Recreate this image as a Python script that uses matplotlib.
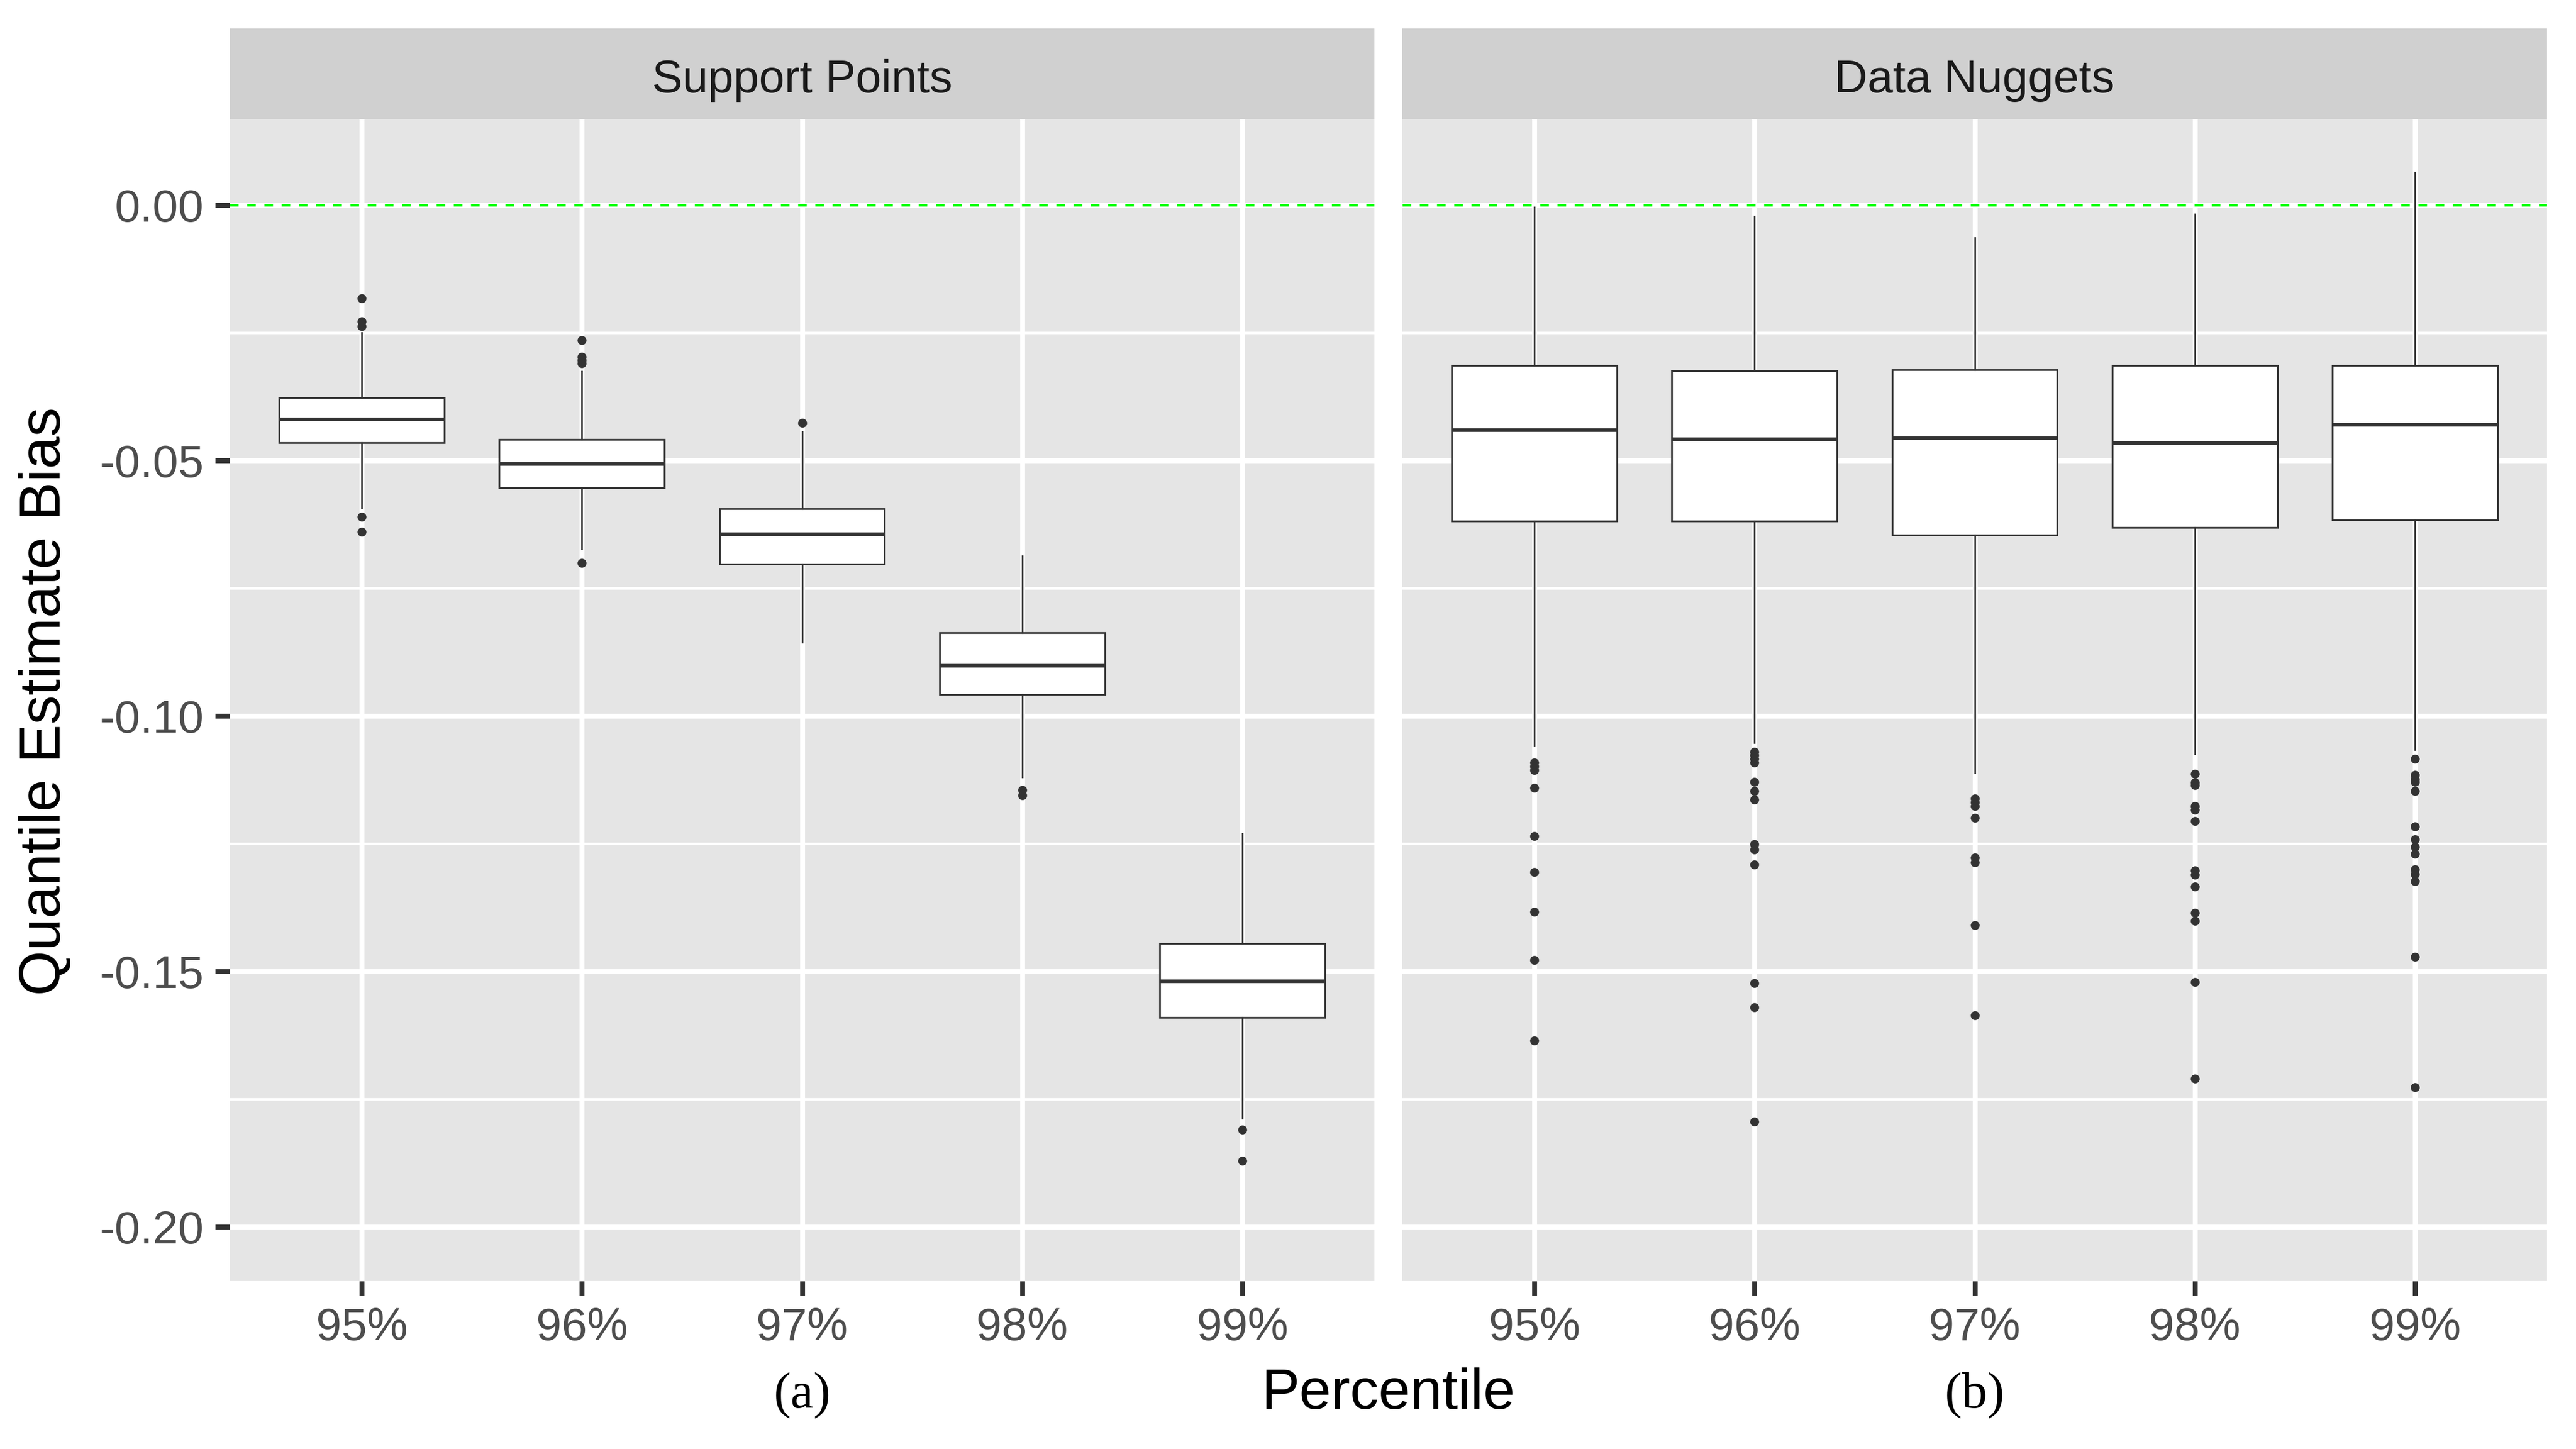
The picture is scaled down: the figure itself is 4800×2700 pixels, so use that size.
import matplotlib
matplotlib.use("Agg")
import matplotlib.pyplot as plt
from matplotlib.ticker import MultipleLocator, FuncFormatter

plt.rcParams["font.family"] = ["Liberation Sans", "DejaVu Sans"]
plt.rcParams["axes.unicode_minus"] = False

# ---- data ----
PERCENTILES = ["95%", "96%", "97%", "98%", "99%"]
PANELS = ["Support Points", "Data Nuggets"]

SP_Q1 = [-0.0465, -0.0554, -0.0703, -0.0958, -0.1590]
SP_MED = [-0.0419, -0.0506, -0.0644, -0.0901, -0.1519]
SP_Q3 = [-0.0377, -0.0459, -0.0595, -0.0837, -0.1445]
SP_WLO = [-0.0593, -0.0673, -0.0856, -0.1120, -0.1788]
SP_WHI = [-0.0250, -0.0326, -0.0443, -0.0687, -0.1230]
SP_FLIERS = [
    [-0.0183, -0.0228, -0.0237, -0.0610, -0.0640],
    [-0.0265, -0.0297, -0.0304, -0.0310, -0.0701],
    [-0.0427],
    [-0.1145, -0.1155],
    [-0.1810, -0.1871],
]

DN_Q1 = [-0.0619, -0.0619, -0.0646, -0.0631, -0.0617]
DN_MED = [-0.0440, -0.0458, -0.0456, -0.0465, -0.0430]
DN_Q3 = [-0.0314, -0.0325, -0.0323, -0.0314, -0.0314]
DN_WLO = [-0.1058, -0.1052, -0.1111, -0.1075, -0.1066]
DN_WHI = [-0.0004, -0.0022, -0.0064, -0.0018, 0.0064]
DN_FLIERS = [
    [-0.1091, -0.1099, -0.1106, -0.1141, -0.1235, -0.1306, -0.1383, -0.1478, -0.1635],
    [-0.1070, -0.1077, -0.1084, -0.1091, -0.1129, -0.1147, -0.1164, -0.1251, -0.1261,
     -0.1291, -0.1523, -0.1570, -0.1794],
    [-0.1162, -0.1169, -0.1176, -0.1200, -0.1277, -0.1287, -0.1410, -0.1586],
    [-0.1113, -0.1130, -0.1136, -0.1176, -0.1184, -0.1206, -0.1302, -0.1311, -0.1334,
     -0.1385, -0.1401, -0.1521, -0.1710],
    [-0.1084, -0.1115, -0.1124, -0.1129, -0.1147, -0.1216, -0.1242, -0.1256, -0.1270,
     -0.1300, -0.1310, -0.1324, -0.1472, -0.1727],
]

Y_TICKS = [0.00, -0.05, -0.10, -0.15, -0.20]
REF_LINE = 0.0


def make_stats(q1, med, q3, wlo, whi, fliers):
    return [dict(q1=a, med=b, q3=c, whislo=d, whishi=e, fliers=f, label=lab)
            for a, b, c, d, e, f, lab in zip(q1, med, q3, wlo, whi, fliers, PERCENTILES)]


STATS = [
    make_stats(SP_Q1, SP_MED, SP_Q3, SP_WLO, SP_WHI, SP_FLIERS),
    make_stats(DN_Q1, DN_MED, DN_Q3, DN_WLO, DN_WHI, DN_FLIERS),
]

# ---- figure ----
fig = plt.figure(figsize=(16, 9), dpi=300)

panel_lefts = [428 / 4800, 2613 / 4800]
panel_w = 2133 / 4800
panel_bottom = 1 - 2387 / 2700
panel_h = (2387 - 222) / 2700
strip_h = (222 - 53) / 2700

EDGE = "#333333"

for i, (name, stats) in enumerate(zip(PANELS, STATS)):
    ax = fig.add_axes([panel_lefts[i], panel_bottom, panel_w, panel_h])
    ax.set_facecolor("#E5E5E5")
    for sp in ax.spines.values():
        sp.set_visible(False)

    ax.axhline(REF_LINE, color="#00FF00", lw=1.1, ls=(0, (3.5, 3.5)), zorder=1.5)

    ax.bxp(stats, positions=range(1, len(PERCENTILES) + 1), widths=0.75,
           patch_artist=True, showcaps=False, manage_ticks=False,
           boxprops=dict(facecolor="white", edgecolor=EDGE, linewidth=0.8),
           medianprops=dict(color=EDGE, linewidth=1.6, solid_capstyle="butt"),
           whiskerprops=dict(color=EDGE, linewidth=0.75),
           flierprops=dict(marker="o", markersize=4.0, markerfacecolor=EDGE,
                           markeredgecolor=EDGE, markeredgewidth=0, linestyle="none"),
           zorder=2)

    ax.set_xlim(0.4, len(PERCENTILES) + 0.6)
    ax.set_ylim(-0.2106, 0.0168)
    ax.set_xticks(range(1, len(PERCENTILES) + 1))
    ax.set_xticklabels(PERCENTILES)
    ax.set_yticks(Y_TICKS)
    ax.yaxis.set_minor_locator(MultipleLocator(0.025))
    ax.yaxis.set_major_formatter(FuncFormatter(lambda v, p: f"{v:.2f}"))

    ax.set_axisbelow(True)
    ax.grid(which="major", color="white", lw=2.2)
    ax.grid(which="minor", axis="y", color="white", lw=1.1)

    ax.tick_params(which="major", length=6.5, width=2.2, color=EDGE,
                   labelsize=20.5, labelcolor="#4D4D4D")
    ax.tick_params(axis="x", pad=5)
    ax.tick_params(axis="y", pad=5)
    ax.tick_params(which="minor", length=0)
    if i == 1:
        ax.tick_params(axis="y", left=False, labelleft=False)

    # facet strip
    sax = fig.add_axes([panel_lefts[i], panel_bottom + panel_h, panel_w, strip_h])
    sax.set_facecolor("#D0D0D0")
    sax.set_xticks([])
    sax.set_yticks([])
    for sp in sax.spines.values():
        sp.set_visible(False)
    sax.text(0.5, 0.296, name, ha="center", va="baseline", fontsize=20.5,
             color="#1A1A1A", transform=sax.transAxes)

    # panel caption (a) / (b)
    fig.text(panel_lefts[i] + panel_w / 2, 1 - 2600 / 2700, f"({'ab'[i]})",
             ha="center", va="center", fontsize=23, family="Liberation Serif")

fig.text(2587 / 4800, 1 - 2625 / 2700, "Percentile", ha="center", va="baseline",
         fontsize=25.5, color="black")
fig.text(34 / 4800, 1 - 1307 / 2700, "Quantile Estimate Bias", rotation=90,
         ha="left", va="center", fontsize=26, color="black")

fig.savefig("out.png", dpi=300, facecolor="white")
